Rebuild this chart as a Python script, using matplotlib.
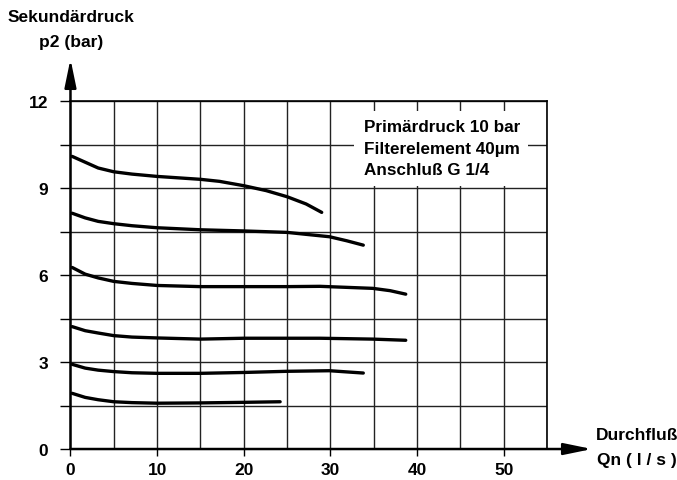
import numpy as np
import matplotlib
matplotlib.use('Agg')
import matplotlib.pyplot as plt
from matplotlib.ticker import MultipleLocator

plt.rcParams['font.family'] = ['Liberation Sans', 'DejaVu Sans']
plt.rcParams['font.weight'] = 'bold'

# curves: flow Qn (l/s) vs secondary pressure p2 (bar)
q1 = [0.2, 1.7, 3.2, 5.0, 7.1, 10.0, 15.0, 17.2, 20.0, 22.6, 25.0, 27.2, 29.0]
p1 = [10.09, 9.89, 9.69, 9.56, 9.48, 9.40, 9.30, 9.23, 9.08, 8.91, 8.70, 8.45, 8.16]
q2 = [0.2, 1.7, 3.2, 5.0, 7.1, 10.0, 15.0, 20.0, 25.0, 29.9, 31.9, 33.8]
p2 = [8.13, 7.97, 7.85, 7.77, 7.70, 7.63, 7.56, 7.52, 7.47, 7.32, 7.18, 7.03]
q3 = [0.2, 1.7, 3.2, 5.0, 7.1, 10.0, 15.0, 20.0, 25.0, 28.8, 34.9, 36.9, 38.7]
p3 = [6.26, 6.03, 5.90, 5.78, 5.71, 5.64, 5.60, 5.60, 5.60, 5.61, 5.54, 5.46, 5.34]
q4 = [0.2, 1.7, 3.2, 5.0, 7.1, 10.0, 15.0, 20.0, 25.0, 28.8, 34.9, 38.7]
p4 = [4.22, 4.08, 4.00, 3.91, 3.86, 3.83, 3.79, 3.82, 3.82, 3.82, 3.79, 3.75]
q5 = [0.2, 1.7, 3.2, 5.0, 7.1, 10.0, 15.0, 20.0, 25.0, 29.9, 33.8]
p5 = [2.92, 2.79, 2.72, 2.67, 2.63, 2.61, 2.61, 2.64, 2.68, 2.70, 2.62]
q6 = [0.2, 1.7, 3.2, 5.0, 7.1, 10.0, 15.0, 20.0, 24.2]
p6 = [1.92, 1.78, 1.70, 1.63, 1.60, 1.58, 1.59, 1.61, 1.63]
curves = [(q1, p1), (q2, p2), (q3, p3), (q4, p4), (q5, p5), (q6, p6)]

info = 'Primärdruck 10 bar\nFilterelement 40µm\nAnschluß G 1/4'

fig = plt.figure(figsize=(6.77, 4.81), dpi=100)
ax = fig.add_axes([0.1041, 0.0644, 0.7038, 0.7235])
ax.set_xlim(0, 55)
ax.set_ylim(0, 12)

# grid
ax.xaxis.set_major_locator(MultipleLocator(10))
ax.xaxis.set_minor_locator(MultipleLocator(5))
ax.yaxis.set_major_locator(MultipleLocator(3))
ax.yaxis.set_minor_locator(MultipleLocator(1.5))
ax.grid(True, which='both', color='#222222', lw=1.0)
ax.set_axisbelow(True)
ax.tick_params(axis='x', which='major', length=5, width=1, direction='out',
               labelsize=12.5, pad=4)
ax.tick_params(axis='x', which='minor', length=0)
ax.tick_params(axis='y', which='both', length=7, width=1, direction='out',
               labelsize=12.5, pad=9)
ax.yaxis.set_major_formatter(plt.FuncFormatter(lambda v, p: '%d' % v))
ax.xaxis.set_major_formatter(plt.FuncFormatter(lambda v, p: '%d' % v))
for lab in ax.get_xticklabels() + ax.get_yticklabels():
    lab.set_fontweight('bold')

for s in ['top', 'right']:
    ax.spines[s].set_linewidth(1.2)
for s in ['left', 'bottom']:
    ax.spines[s].set_visible(False)

# curves
for q, p in curves:
    ax.plot(q, p, color='black', lw=2.4, solid_capstyle='round',
            solid_joinstyle='round', zorder=3)

# info box
ax.add_patch(plt.Rectangle((32.7, 9.07), 20.1, 2.59, facecolor='white',
                           edgecolor='none', zorder=2))
ax.text(33.9, 10.37, info, ha='left', va='center', fontsize=12.3,
        fontweight='bold', linespacing=1.55, zorder=4)

# axis arrows
ax.annotate('', xy=(0, 13.45), xytext=(0, 0), xycoords='data',
            arrowprops=dict(arrowstyle='-|>,head_length=1.7,head_width=0.35',
                            color='black', lw=1.8, shrinkA=0, shrinkB=0),
            annotation_clip=False, zorder=5)
ax.annotate('', xy=(60.2, 0), xytext=(0, 0), xycoords='data',
            arrowprops=dict(arrowstyle='-|>,head_length=1.7,head_width=0.35',
                            color='black', lw=1.8, shrinkA=0, shrinkB=0),
            annotation_clip=False, zorder=5)

fig.text(71 / 677, 1 - 17 / 481, 'Sekundärdruck', ha='center', va='center',
         fontsize=12.5, fontweight='bold')
fig.text(71 / 677, 1 - 42 / 481, 'p2 (bar)', ha='center', va='center',
         fontsize=12.5, fontweight='bold')
fig.text(637 / 677, 1 - 436 / 481, 'Durchfluß', ha='center', va='center',
         fontsize=12.5, fontweight='bold')
fig.text(637 / 677, 1 - 460 / 481, 'Qn ( l / s )', ha='center', va='center',
         fontsize=12.5, fontweight='bold')

fig.savefig('out.png', dpi=100)
